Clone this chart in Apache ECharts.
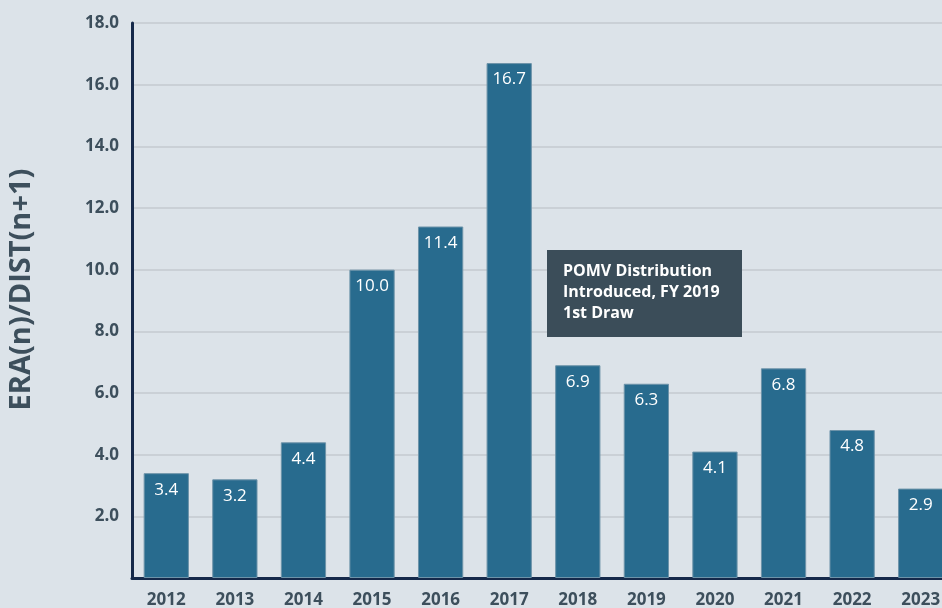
<!DOCTYPE html>
<html>
<head>
<meta charset="utf-8">
<script src="https://cdn.jsdelivr.net/npm/echarts@6/dist/echarts.min.js"></script>
<style>
  html, body { margin: 0; padding: 0; background: #dce3e9; }
  #chart { width: 942px; height: 608px; }
</style>
</head>
<body>
<div id="chart"></div>
<script>
  // 年份
  var years = ['2012', '2013', '2014', '2015', '2016', '2017', '2018', '2019', '2020', '2021', '2022', '2023'];
  // ERA(n)/DIST(n+1)
  var ratios = [3.4, 3.2, 4.4, 10.0, 11.4, 16.7, 6.9, 6.3, 4.1, 6.8, 4.8, 2.9];
  var noteLines = ['POMV Distribution', 'Introduced, FY 2019', '1st Draw'];

  var textColor = '#3d4f5c';
  var axisColor = '#15294a';
  var fontName = 'Open Sans';
  var myChart = echarts.init(document.getElementById('chart'));

  var option = {
    backgroundColor: '#dce3e9',
    animation: false,
    textStyle: { fontFamily: fontName },
    grid: {
      left: 132,
      top: 23,
      width: 823,
      height: 555,
      outerBoundsMode: 'none',
      containLabel: false
    },
    xAxis: {
      type: 'category',
      data: years,
      axisLine: { show: true, lineStyle: { color: axisColor, width: 3 } },
      axisTick: { show: false },
      axisLabel: {
        color: textColor,
        fontSize: 17,
        fontWeight: 'bold',
        margin: 14
      }
    },
    yAxis: {
      type: 'value',
      min: 0,
      max: 18,
      interval: 2,
      name: 'ERA(n)/DIST(n+1)',
      nameLocation: 'middle',
      nameRotate: 90,
      nameGap: 96,
      nameTextStyle: {
        color: textColor,
        fontSize: 29,
        fontWeight: 'bold',
        padding: [0, 0, 0, 22]
      },
      axisLine: { show: true, lineStyle: { color: axisColor, width: 3 } },
      axisTick: { show: false },
      axisLabel: {
        color: textColor,
        fontSize: 17,
        fontWeight: 'bold',
        margin: 13,
        formatter: function (v) { return v === 0 ? '' : v.toFixed(1); }
      },
      splitLine: { show: true, lineStyle: { color: '#c5cacf', width: 1.5 } }
    },
    series: [
      {
        type: 'bar',
        data: ratios,
        barCategoryGap: '34%',
        itemStyle: {
          color: '#286b8e',
          borderColor: '#6d93a9',
          borderWidth: 1
        },
        label: {
          show: true,
          position: 'insideTop',
          distance: 8,
          color: '#ffffff',
          fontSize: 17,
          formatter: function (p) { return p.value.toFixed(1); }
        }
      }
    ],
    graphic: [
      {
        type: 'rect',
        left: 547,
        top: 250,
        z: 100,
        shape: { width: 195, height: 87 },
        style: { fill: '#3b4d59' }
      },
      {
        type: 'text',
        left: 563,
        top: 261,
        z: 101,
        style: {
          text: noteLines.join('\n'),
          fill: '#ffffff',
          font: 'bold 16px "Open Sans"',
          lineHeight: 21
        }
      }
    ]
  };
  myChart.setOption(option);
</script>
</body>
</html>
